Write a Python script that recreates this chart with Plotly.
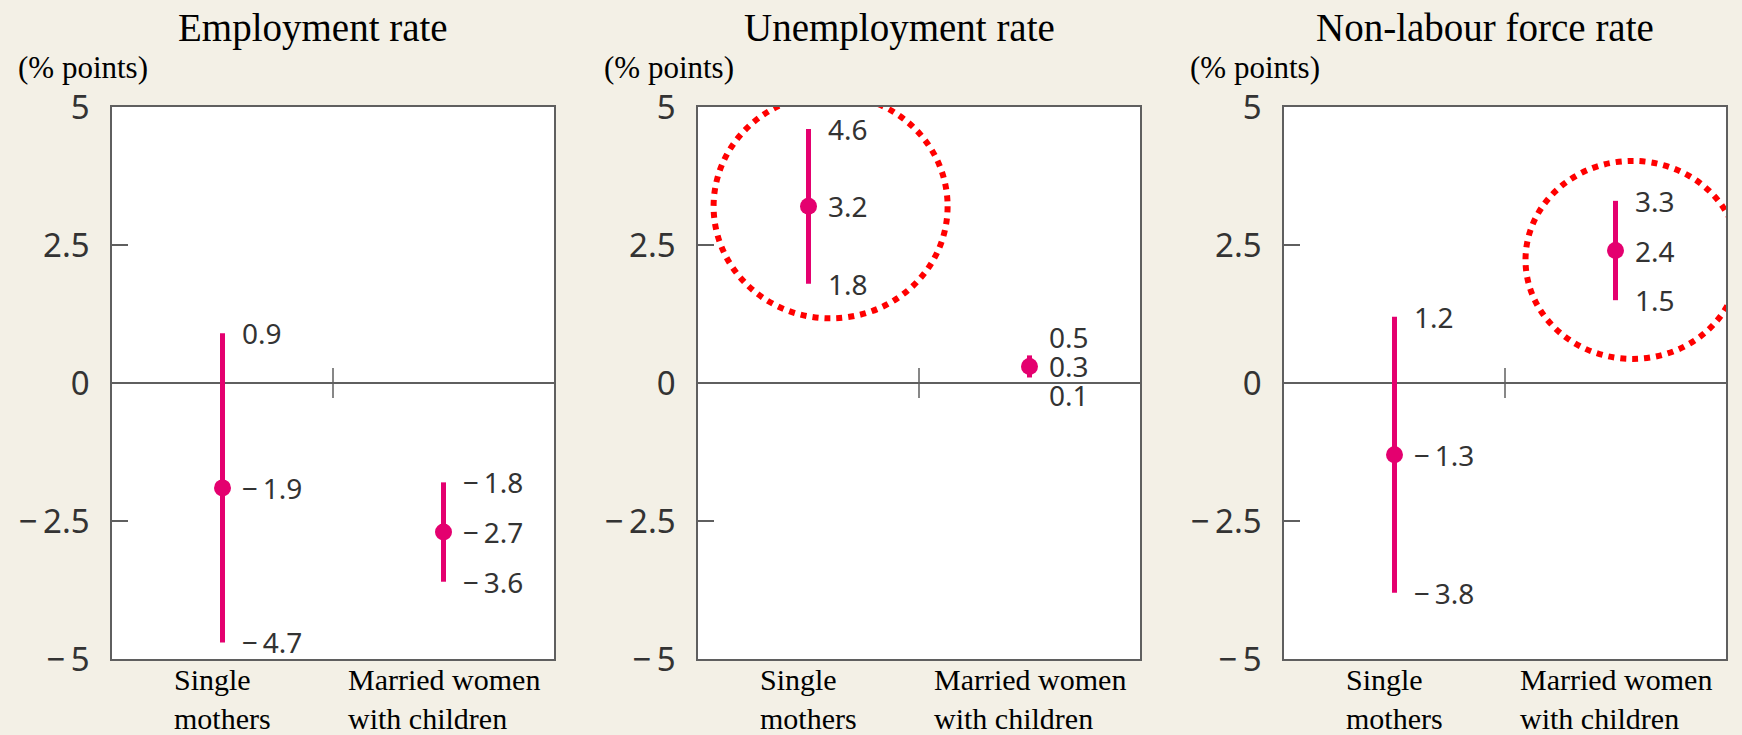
import plotly.graph_objects as go

# ---------------- data ----------------
categories = ["Single<br>mothers", "Married women<br>with children"]
panel_titles = ["Employment rate", "Unemployment rate", "Non-labour force rate"]
y_unit = "(% points)"
y_tickvals = [-5, -2.5, 0, 2.5, 5]

employment_mean = [-1.9, -2.7]
employment_upper = [0.9, -1.8]
employment_lower = [-4.7, -3.6]

unemployment_mean = [3.2, 0.3]
unemployment_upper = [4.6, 0.5]
unemployment_lower = [1.8, 0.1]

nonlabour_mean = [-1.3, 2.4]
nonlabour_upper = [1.2, 3.3]
nonlabour_lower = [-3.8, 1.5]

highlighted = [None, 0, 1]  # index of highlighted category per panel

panels = [
    (employment_mean, employment_upper, employment_lower),
    (unemployment_mean, unemployment_upper, unemployment_lower),
    (nonlabour_mean, nonlabour_upper, nonlabour_lower),
]

# ---------------- layout constants ----------------
W, H = 1742, 735
PINK = "#e4006f"
FRAME = "#5f5f5f"
BG = "#f3f0e6"
SANS = "Noto Sans"
SERIF = "Liberation Serif"
panel_left = [112, 698, 1284]
panel_w = 442
plot_top, plot_bottom = 107, 659
ppu = (plot_bottom - plot_top) / 10.0  # pixels per y unit
xppu = panel_w / 2.0                   # pixels per x unit
MIN_LABEL_GAP = 29


def fmt(v):
    s = f"{abs(v):.1f}"
    return ("\u2212\u2009" + s) if v < 0 else s


def tick_fmt(v):
    s = f"{abs(v):g}"
    return ("\u2212\u2009" + s) if v < 0 else s


def py(p):  # pixel y -> paper
    return 1 - p / H


def px(p):  # pixel x -> paper
    return p / W


fig = go.Figure()
annotations = []
shapes = []

for i, (mean, upper, lower) in enumerate(panels):
    n = "" if i == 0 else str(i + 1)
    xa, ya = "x" + n, "y" + n
    xs = list(range(len(categories)))
    fig.add_trace(go.Scatter(
        x=xs, y=mean, xaxis=xa, yaxis=ya, mode="markers",
        marker=dict(size=17, color=PINK),
        error_y=dict(type="data", symmetric=False,
                     array=[u - m for u, m in zip(upper, mean)],
                     arrayminus=[m - l for m, l in zip(mean, lower)],
                     color=PINK, thickness=5, width=0),
        showlegend=False, hoverinfo="skip", cliponaxis=False,
    ))
    dom = [px(panel_left[i]), px(panel_left[i] + panel_w)]
    axis_common = dict(showline=True, mirror=True, linecolor=FRAME, linewidth=1.5,
                       showgrid=False, automargin=False, fixedrange=True)
    fig.update_layout(**{
        "xaxis" + n: dict(domain=dom, range=[-0.5, 1.5], showticklabels=False,
                          ticks="", zeroline=False, anchor=ya, **axis_common),
        "yaxis" + n: dict(domain=[py(plot_bottom), py(plot_top)], range=[-5, 5],
                          tickvals=y_tickvals, ticktext=[tick_fmt(v) for v in y_tickvals],
                          ticks="inside", ticklen=16, tickwidth=1.5, tickcolor=FRAME,
                          ticklabelstandoff=14,
                          tickfont=dict(family=SANS, size=33, color="#333"),
                          zeroline=True, zerolinecolor=FRAME, zerolinewidth=1.5,
                          anchor=xa, **axis_common),
    })

    # value labels
    for j in xs:
        gap_up = (upper[j] - mean[j]) * ppu
        gap_dn = (mean[j] - lower[j]) * ppu
        shift_up = max(0, MIN_LABEL_GAP - gap_up)
        shift_dn = max(0, MIN_LABEL_GAP - gap_dn)
        for val, ysh in ((upper[j], shift_up), (mean[j], 0), (lower[j], -shift_dn)):
            annotations.append(dict(
                x=j, y=val, xref=xa, yref=ya, text=fmt(val), showarrow=False,
                xanchor="left", yanchor="middle", xshift=17, yshift=ysh,
                font=dict(family=SANS, size=28, color="#333")))
        # category labels
        annotations.append(dict(
            x=j, y=py(661), xref=xa, yref="paper", text=categories[j],
            showarrow=False, xanchor="center", yanchor="top", align="left",
            font=dict(family=SERIF, size=30, color="#000")))

    # mid divider tick on zero line
    shapes.append(dict(type="line", xref=xa, yref=ya, x0=0.5, x1=0.5,
                       y0=-15 / ppu, y1=15 / ppu, line=dict(color=FRAME, width=1.5)))

    # titles and unit labels
    annotations.append(dict(
        x=px(panel_left[i] + panel_w / 2 - 20), y=py(28), xref="paper", yref="paper",
        text=panel_titles[i], showarrow=False, xanchor="center", yanchor="middle",
        font=dict(family=SERIF, size=39, color="#000")))
    annotations.append(dict(
        x=px(panel_left[i] - 96), y=py(67), xref="paper", yref="paper",
        text=y_unit, showarrow=False, xanchor="left", yanchor="middle",
        font=dict(family=SERIF, size=31, color="#000")))

    # dotted highlight circle
    h = highlighted[i]
    if h is not None:
        cx = h + (0.1 if i == 1 else 0.077)
        cy = mean[h] + (0.0 if i == 1 else -0.17)
        rx = (117 if i == 1 else 107) / xppu
        ry = (112 if i == 1 else 99) / ppu
        shapes.append(dict(type="circle", xref=xa, yref=ya,
                           x0=cx - rx, x1=cx + rx, y0=cy - ry, y1=cy + ry,
                           line=dict(color="#ff0000", width=6, dash="dot"),
                           layer="above"))

fig.update_layout(
    template="none",
    width=W, height=H, margin=dict(l=0, r=0, t=0, b=0, pad=0, autoexpand=False),
    paper_bgcolor=BG, plot_bgcolor="#ffffff",
    annotations=annotations, shapes=shapes, showlegend=False,
)

fig.write_html(
    "out.html",
    config={"displayModeBar": False, "responsive": False},
    post_script="document.body.style.margin='0';document.body.style.background='%s';" % BG,
)
